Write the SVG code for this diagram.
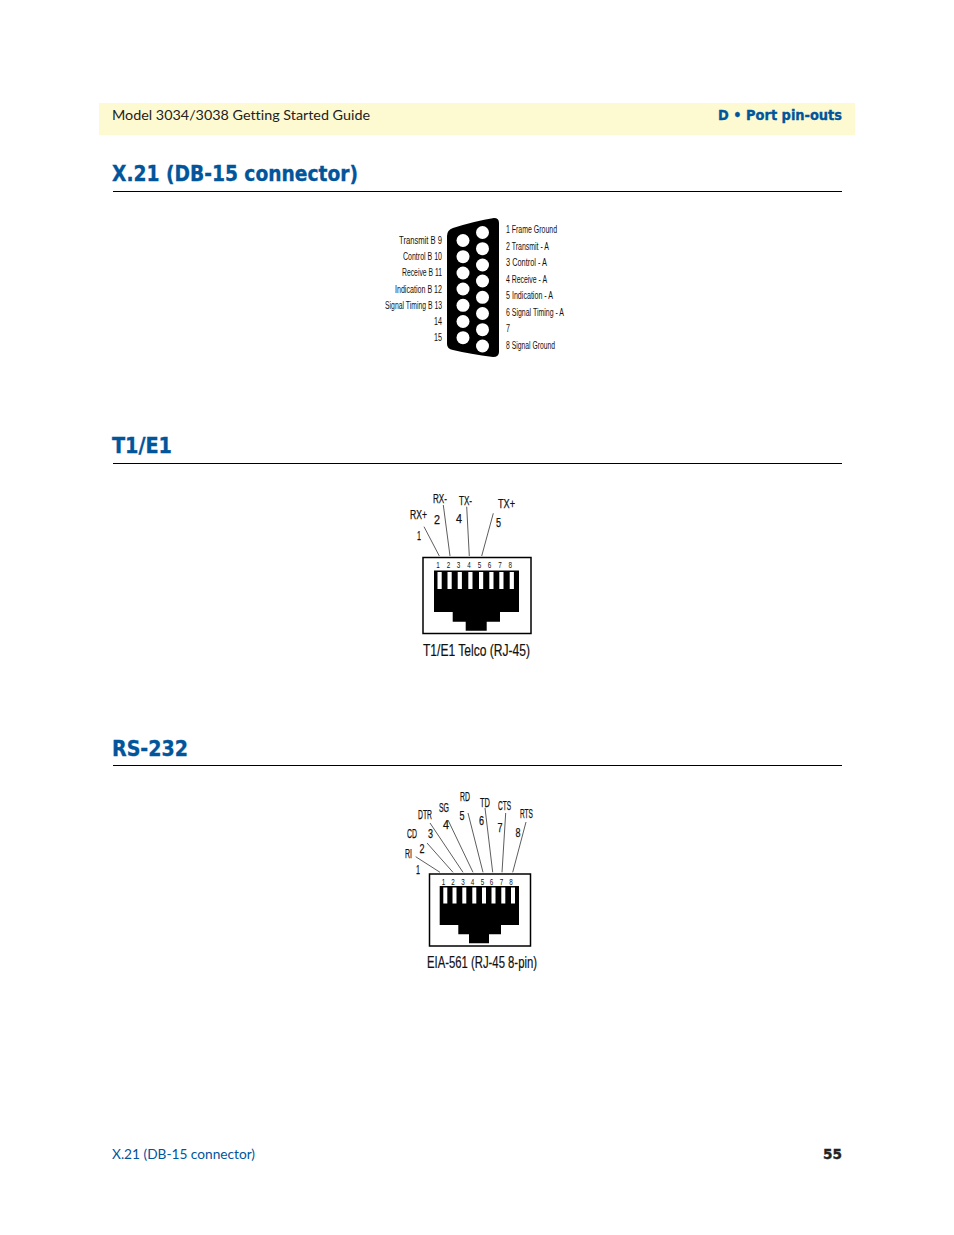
<svg xmlns="http://www.w3.org/2000/svg" width="954" height="1235" viewBox="0 0 954 1235">
<style>
text{font-family:"Liberation Sans",Arial,sans-serif;fill:#111;font-variant-ligatures:none}
.h{font-family:"DejaVu Sans",sans-serif;font-weight:700;fill:#00559b;stroke:#00559b;stroke-width:.35}
.b{font-family:"Lato","Open Sans",sans-serif}
.s{font-size:10px;fill:#333;white-space:pre}
.l{font-size:12.500px;fill:#111;stroke:#111;stroke-width:.25}
.n{font-size:9px;fill:#222}
.m{font-size:16px;fill:#111;stroke:#111;stroke-width:.2}
.e{text-anchor:end}
.c{text-anchor:middle}
.r{stroke:#000;fill:#fff;stroke-width:1.5}
.k{fill:#000}
.w{fill:#fff}
.cn line{stroke:#333;stroke-width:.8}
</style>
<rect width="954" height="1235" fill="#fff"/>
<g id="page-header">
<rect x="99" y="103" width="756" height="32" fill="#fdfad2"/>
<text class="b" x="112" y="120" font-size="14" style="fill:#222" textLength="258" lengthAdjust="spacingAndGlyphs">Model 3034/3038 Getting Started Guide</text>
<text class="h" x="842" y="120" font-size="13.5" text-anchor="end" textLength="124" lengthAdjust="spacingAndGlyphs">D • Port pin-outs</text>
</g>
<g id="section-x21">
<text class="h" x="112" y="181" font-size="21" textLength="246" lengthAdjust="spacingAndGlyphs">X.21 (DB-15 connector)</text>
<line x1="113" y1="191.500" x2="842" y2="191.500" stroke="#000"/>
</g>
<g id="db15">
<path class="k" d="M447 236Q447 230 453 228Q475 221 494 218Q499 218 499 223V352Q499 357 493 357Q470 354 453 350Q447 349 447 344Z"/>
<g class="w">
<circle cx="463" cy="240.500" r="6.500"/><circle cx="463" cy="256.700" r="6.500"/><circle cx="463" cy="273" r="6.500"/><circle cx="463" cy="289" r="6.500"/><circle cx="463" cy="305.300" r="6.500"/><circle cx="463" cy="321.500" r="6.500"/><circle cx="463" cy="337.700" r="6.500"/>
<circle cx="482.500" cy="232.500" r="6.500"/><circle cx="482.500" cy="248.700" r="6.500"/><circle cx="482.500" cy="265" r="6.500"/><circle cx="482.500" cy="281" r="6.500"/><circle cx="482.500" cy="297.300" r="6.500"/><circle cx="482.500" cy="313.500" r="6.500"/><circle cx="482.500" cy="329.700" r="6.500"/><circle cx="482.500" cy="346" r="6.500"/>
</g>
<g class="s">
<text class="e" x="442" y="244" textLength="43" lengthAdjust="spacingAndGlyphs">Transmit B   9</text>
<text class="e" x="442" y="260" textLength="39" lengthAdjust="spacingAndGlyphs">Control B  10</text>
<text class="e" x="442" y="276" textLength="40" lengthAdjust="spacingAndGlyphs">Receive B  11</text>
<text class="e" x="442" y="293" textLength="47" lengthAdjust="spacingAndGlyphs">Indication B  12</text>
<text class="e" x="442" y="309" textLength="57" lengthAdjust="spacingAndGlyphs">Signal Timing B  13</text>
<text x="434" y="325" textLength="8" lengthAdjust="spacingAndGlyphs">14</text>
<text x="434" y="341" textLength="8" lengthAdjust="spacingAndGlyphs">15</text>
<text x="506" y="233" textLength="51" lengthAdjust="spacingAndGlyphs">1  Frame Ground</text>
<text x="506" y="250" textLength="43" lengthAdjust="spacingAndGlyphs">2  Transmit - A</text>
<text x="506" y="266" textLength="41" lengthAdjust="spacingAndGlyphs">3  Control -  A</text>
<text x="506" y="283" textLength="41" lengthAdjust="spacingAndGlyphs">4  Receive - A</text>
<text x="506" y="299" textLength="47" lengthAdjust="spacingAndGlyphs">5  Indication - A</text>
<text x="506" y="316" textLength="58" lengthAdjust="spacingAndGlyphs">6  Signal Timing - A</text>
<text x="506" y="332" textLength="4" lengthAdjust="spacingAndGlyphs">7</text>
<text x="506" y="349" textLength="49" lengthAdjust="spacingAndGlyphs">8  Signal Ground</text>
</g>
</g>
<g id="section-t1e1">
<text class="h" x="112" y="453" font-size="21" textLength="60" lengthAdjust="spacingAndGlyphs">T1/E1</text>
<line x1="113" y1="463.500" x2="842" y2="463.500" stroke="#000"/>
</g>
<g class="cn" id="t1-connectors">
<line x1="424" y1="526.700" x2="439.300" y2="556"/>
<line x1="443.300" y1="505" x2="450" y2="556"/>
<line x1="466.700" y1="506.700" x2="469.300" y2="556"/>
<line x1="493.300" y1="513.300" x2="481.700" y2="556"/>
</g>
<g id="rj45-t1">
<rect class="r" x="423" y="557.500" width="108" height="76"/>
<path class="k" d="M434 570.500H519V612H500V621.700H486.700V630.700H465.700V621.700H452.700V612H434Z"/>
<g class="w">
<rect x="437.500" y="572" width="4.200" height="17"/><rect x="447.500" y="572" width="4.200" height="17"/><rect x="457.700" y="572" width="4.200" height="17"/><rect x="468.300" y="572" width="4.200" height="17"/><rect x="479" y="572" width="4.200" height="17"/><rect x="489.300" y="572" width="4.200" height="17"/><rect x="499.300" y="572" width="4.200" height="17"/><rect x="509.700" y="572" width="4.200" height="17"/>
</g>
<g class="n c">
<text x="438" y="568" textLength="3.500" lengthAdjust="spacingAndGlyphs">1</text><text x="448.500" y="568" textLength="3.500" lengthAdjust="spacingAndGlyphs">2</text><text x="458.500" y="568" textLength="3.500" lengthAdjust="spacingAndGlyphs">3</text><text x="469" y="568" textLength="3.500" lengthAdjust="spacingAndGlyphs">4</text><text x="479.500" y="568" textLength="3.500" lengthAdjust="spacingAndGlyphs">5</text><text x="489.500" y="568" textLength="3.500" lengthAdjust="spacingAndGlyphs">6</text><text x="500" y="568" textLength="3.500" lengthAdjust="spacingAndGlyphs">7</text><text x="510.300" y="568" textLength="3.500" lengthAdjust="spacingAndGlyphs">8</text>
</g>
<g class="l">
<text x="410" y="519" textLength="17" lengthAdjust="spacingAndGlyphs">RX+</text>
<text x="433" y="503" textLength="14" lengthAdjust="spacingAndGlyphs">RX-</text>
<text x="459" y="505" textLength="13" lengthAdjust="spacingAndGlyphs">TX-</text>
<text x="498" y="508" textLength="17" lengthAdjust="spacingAndGlyphs">TX+</text>
<text x="417" y="540" textLength="4" lengthAdjust="spacingAndGlyphs">1</text><text x="434" y="524" textLength="6" lengthAdjust="spacingAndGlyphs">2</text><text x="456" y="523" textLength="6" lengthAdjust="spacingAndGlyphs">4</text><text x="496" y="527" textLength="5" lengthAdjust="spacingAndGlyphs">5</text>
</g>
<text class="m" x="423" y="656" textLength="107" lengthAdjust="spacingAndGlyphs">T1/E1 Telco (RJ-45)</text>
</g>
<g id="section-rs232">
<text class="h" x="112" y="756" font-size="21" textLength="76" lengthAdjust="spacingAndGlyphs">RS-232</text>
<line x1="113" y1="765.500" x2="842" y2="765.500" stroke="#000"/>
</g>
<g class="cn" id="rs232-connectors">
<line x1="415.700" y1="856.700" x2="440" y2="872.300"/>
<line x1="427" y1="843" x2="453" y2="872.300"/>
<line x1="430" y1="823" x2="463" y2="872.300"/>
<line x1="448" y1="820" x2="473" y2="872.300"/>
<line x1="468" y1="813" x2="483" y2="872.300"/>
<line x1="485" y1="808" x2="492.700" y2="872.300"/>
<line x1="505.700" y1="813" x2="502" y2="872.300"/>
<line x1="526" y1="822" x2="512.700" y2="872.300"/>
</g>
<g id="rj45-rs232">
<rect class="r" x="429.500" y="874" width="101" height="72"/>
<path class="k" d="M439.700 886H519V925H501V934.300H489V943.300H469V934.300H458.300V925H439.700Z"/>
<g class="w">
<rect x="443.300" y="887.500" width="4" height="16"/><rect x="452.500" y="887.500" width="4" height="16"/><rect x="462.300" y="887.500" width="4" height="16"/><rect x="472.300" y="887.500" width="4" height="16"/><rect x="482" y="887.500" width="4" height="16"/><rect x="491.500" y="887.500" width="4" height="16"/><rect x="501.300" y="887.500" width="4" height="16"/><rect x="511" y="887.500" width="4" height="16"/>
</g>
<g class="n c">
<text x="443.500" y="885" textLength="3.500" lengthAdjust="spacingAndGlyphs">1</text><text x="453" y="885" textLength="3.500" lengthAdjust="spacingAndGlyphs">2</text><text x="463" y="885" textLength="3.500" lengthAdjust="spacingAndGlyphs">3</text><text x="472.500" y="885" textLength="3.500" lengthAdjust="spacingAndGlyphs">4</text><text x="482.500" y="885" textLength="3.500" lengthAdjust="spacingAndGlyphs">5</text><text x="491.500" y="885" textLength="3.500" lengthAdjust="spacingAndGlyphs">6</text><text x="501.500" y="885" textLength="3.500" lengthAdjust="spacingAndGlyphs">7</text><text x="511" y="885" textLength="3.500" lengthAdjust="spacingAndGlyphs">8</text>
</g>
<g class="l">
<text x="405" y="858" textLength="7" lengthAdjust="spacingAndGlyphs">RI</text>
<text x="407" y="838" textLength="10" lengthAdjust="spacingAndGlyphs">CD</text>
<text x="418" y="819" textLength="14" lengthAdjust="spacingAndGlyphs">DTR</text>
<text x="439" y="812" textLength="10" lengthAdjust="spacingAndGlyphs">SG</text>
<text x="460" y="801" textLength="10" lengthAdjust="spacingAndGlyphs">RD</text>
<text x="480" y="807" textLength="10" lengthAdjust="spacingAndGlyphs">TD</text>
<text x="498" y="810" textLength="13" lengthAdjust="spacingAndGlyphs">CTS</text>
<text x="520" y="818" textLength="13" lengthAdjust="spacingAndGlyphs">RTS</text>
<text x="416" y="874" textLength="4" lengthAdjust="spacingAndGlyphs">1</text><text x="419.500" y="853" textLength="5" lengthAdjust="spacingAndGlyphs">2</text><text x="428" y="838" textLength="5" lengthAdjust="spacingAndGlyphs">3</text><text x="443" y="829" textLength="6" lengthAdjust="spacingAndGlyphs">4</text><text x="459.500" y="820" textLength="5" lengthAdjust="spacingAndGlyphs">5</text><text x="479" y="825" textLength="5" lengthAdjust="spacingAndGlyphs">6</text><text x="497.500" y="832" textLength="5" lengthAdjust="spacingAndGlyphs">7</text><text x="515.500" y="837" textLength="5" lengthAdjust="spacingAndGlyphs">8</text>
</g>
<text class="m" x="427" y="968" textLength="110" lengthAdjust="spacingAndGlyphs">EIA-561 (RJ-45 8-pin)</text>
</g>
<g id="page-footer">
<text class="b" x="112" y="1159" font-size="14" style="fill:#00559b" textLength="143" lengthAdjust="spacingAndGlyphs">X.21 (DB-15 connector)</text>
<text class="h" x="842" y="1159" font-size="14" text-anchor="end" style="fill:#222;stroke:#222" textLength="19" lengthAdjust="spacingAndGlyphs">55</text>
</g>
</svg>
